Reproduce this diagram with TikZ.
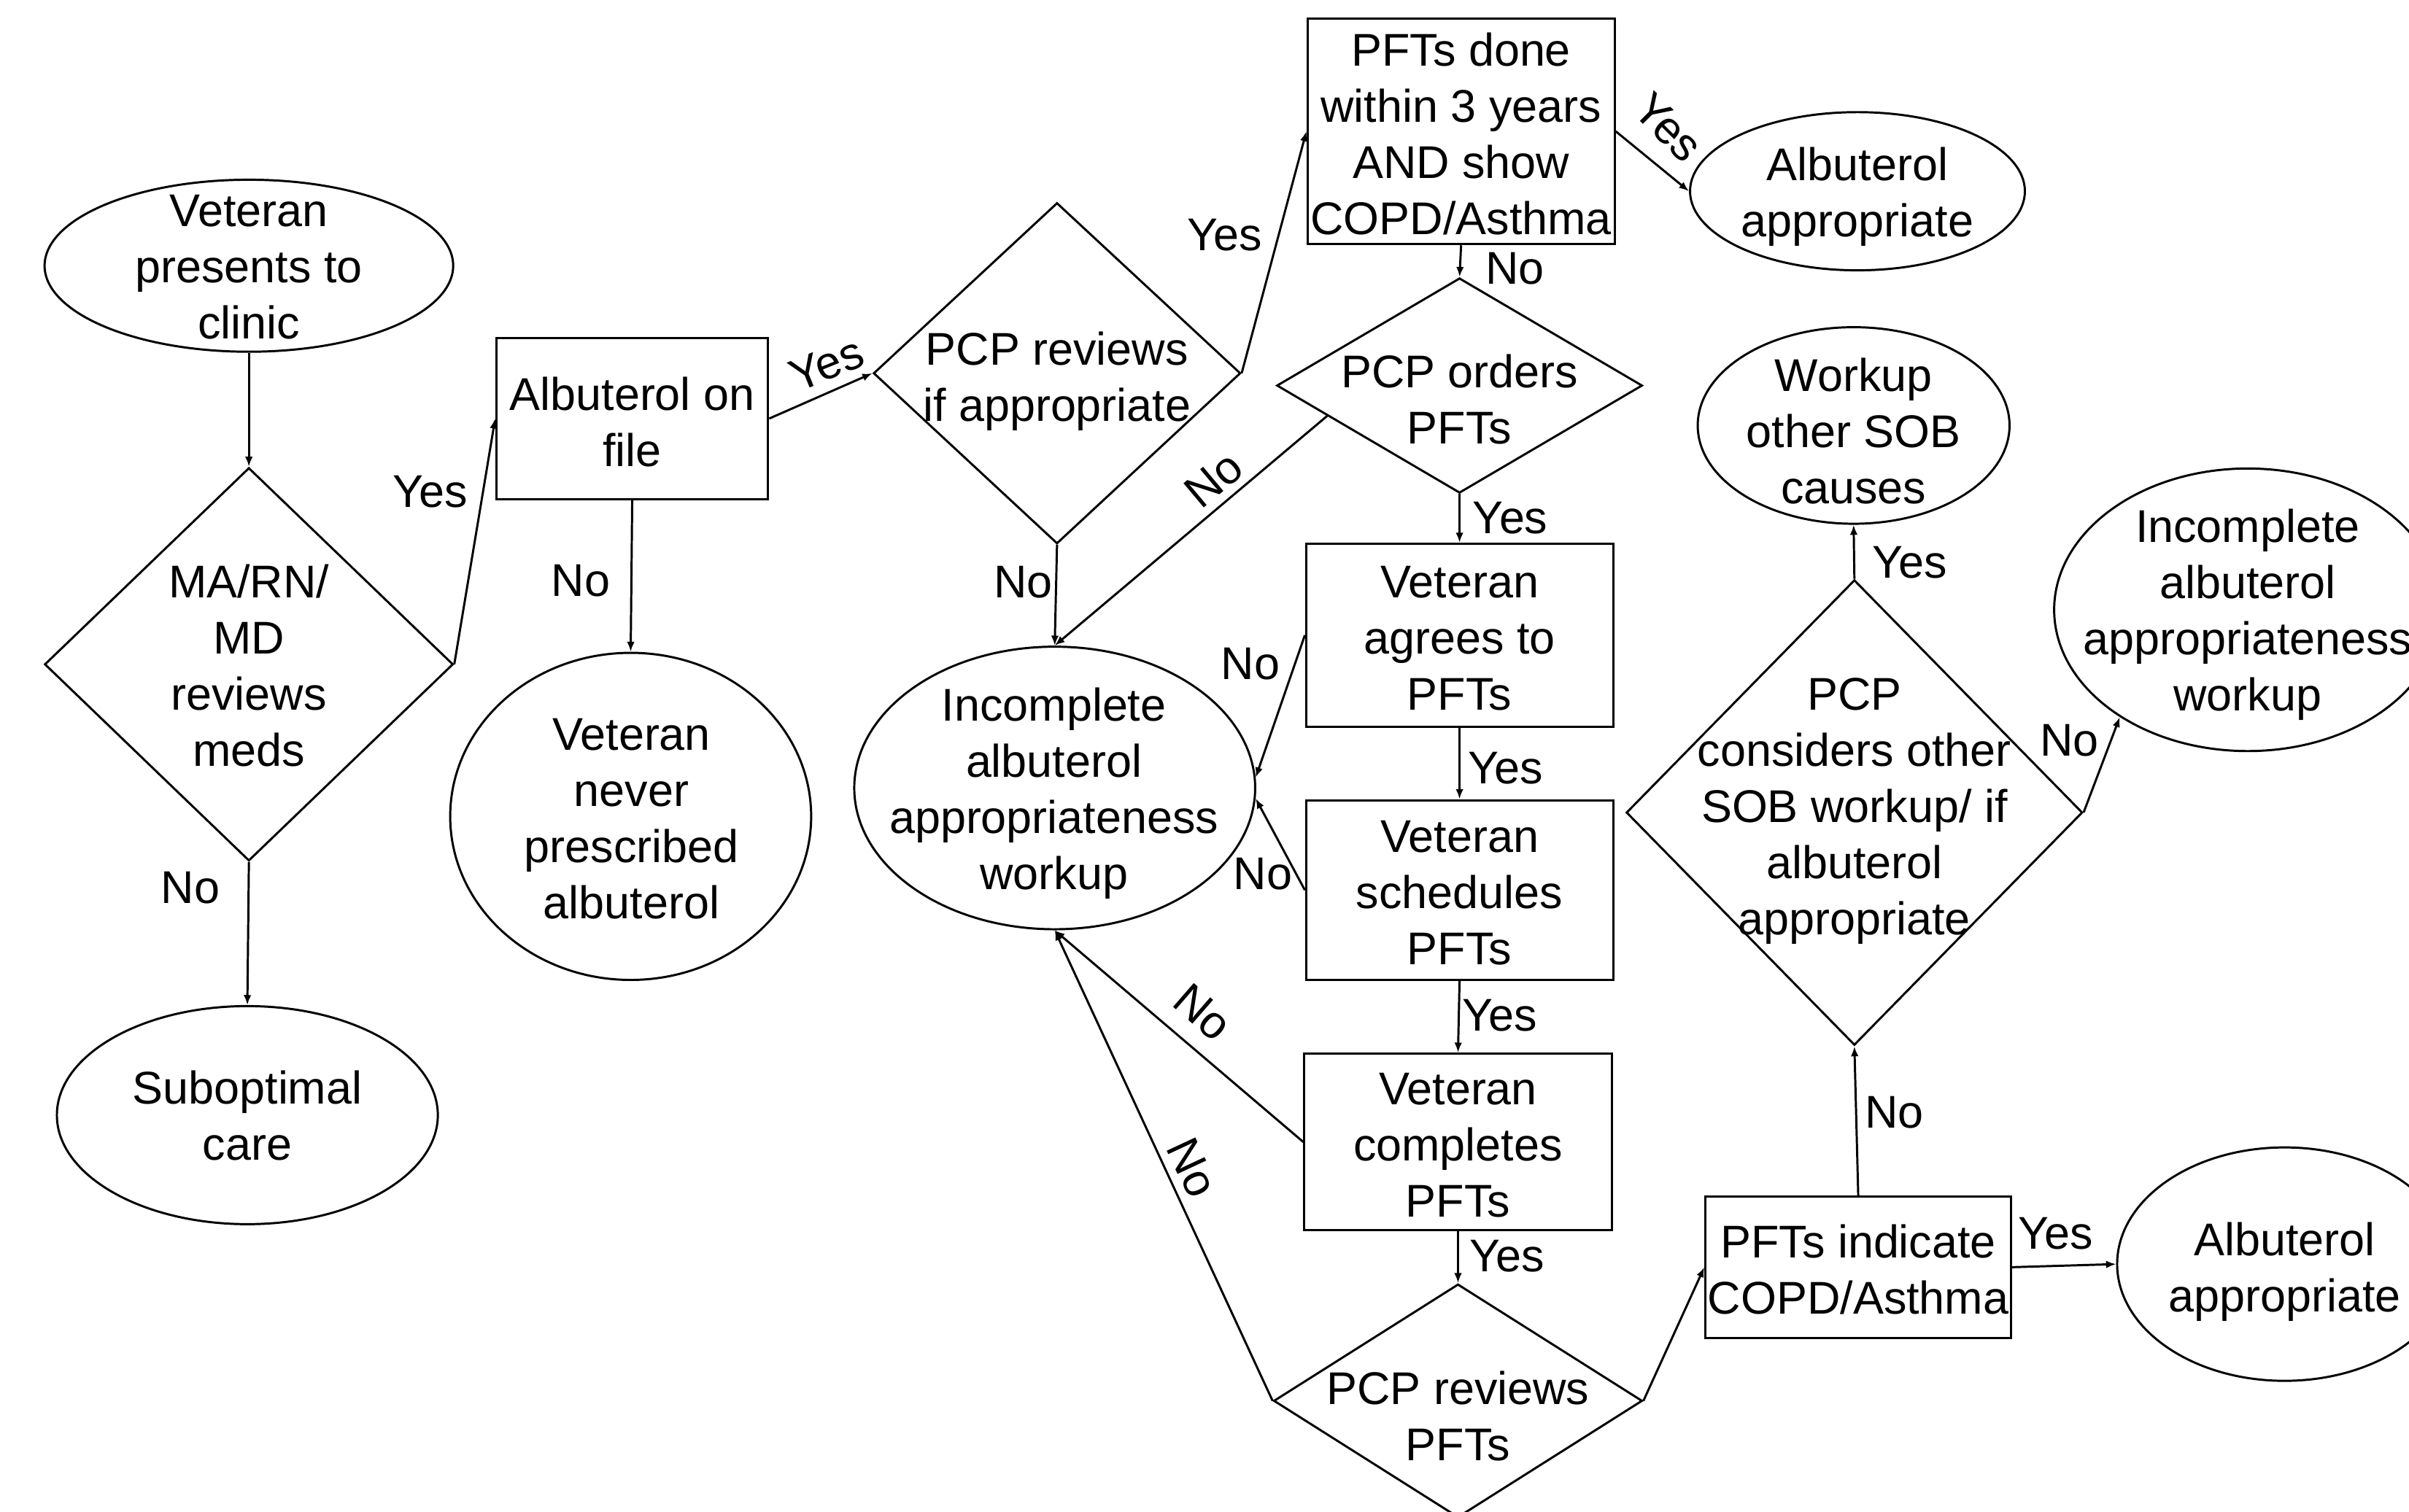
\documentclass[tikz,border=0pt]{standalone}
\usepackage{fontspec}
\setmainfont{Liberation Sans}
\usetikzlibrary{shapes.geometric,arrows.meta,calc}
\begin{document}
\begin{tikzpicture}[x=0.02cm,y=-0.02cm,
  line width=0.8pt,
  txt/.style={font=\fontsize{17}{20.8}\selectfont, align=center, inner sep=0pt},
  lbl/.style={font=\fontsize{17}{20.8}\selectfont, inner sep=0pt},
  ell/.style={draw, ellipse, inner sep=0pt},
  dia/.style={draw, diamond, inner sep=0pt},
  box/.style={draw, rectangle, inner sep=0pt},
  arr/.style={-{Latex[length=1.3mm,width=1mm]}},
]
\useasboundingbox (0,0) rectangle (1568,984);
\clip (0,0) rectangle (1568,984);
\fill[white] (0,0) rectangle (1568,984);

% shapes
\node[ell, minimum width=5.32cm, minimum height=2.24cm] (e1) at (162,173) {};
\node[txt] (t1) at (162,174) {Veteran\\presents to\\clinic};
\node[dia, minimum width=5.32cm, minimum height=5.12cm] (d1) at (162,432.5) {};
\node[txt] (t2) at (162,433.5) {MA/RN/\\MD\\reviews\\meds};
\node[ell, minimum width=4.96cm, minimum height=2.84cm] (e2) at (161,726) {};
\node[txt] (t3) at (161,726.5) {Suboptimal\\care};
\node[box, minimum width=3.54cm, minimum height=2.10cm] (b1) at (411.5,272.5) {};
\node[txt] (t4) at (411.5,274.5) {Albuterol on\\file};
\node[ell, minimum width=4.70cm, minimum height=4.26cm] (e3) at (410.5,531.5) {};
\node[txt] (t5) at (411,533) {Veteran\\never\\prescribed\\albuterol};
\node[dia, minimum width=4.78cm, minimum height=4.44cm] (d2) at (688,243) {};
\node[txt] (t6) at (688,248) {PCP reviews\\if appropriate};
\node[box, minimum width=4.0cm, minimum height=2.94cm] (b2) at (951,85.5) {};
\node[txt] (t7) at (951,87) {PFTs done\\within 3 years\\AND show\\COPD/Asthma};
\node[ell, minimum width=4.36cm, minimum height=2.06cm] (e4) at (1209,124.5) {};
\node[txt] (t8) at (1209,128) {Albuterol\\appropriate};
\node[dia, minimum width=4.76cm, minimum height=2.80cm] (d3) at (950,251) {};
\node[txt] (t9) at (950,260) {PCP orders\\PFTs};
\node[ell, minimum width=5.22cm, minimum height=3.68cm] (e5) at (686.5,513) {};
\node[txt] (t10) at (686,516.5) {Incomplete\\albuterol\\appropriateness\\workup};
\node[box, minimum width=4.0cm, minimum height=2.38cm] (b3) at (950,413.5) {};
\node[txt] (t11) at (950,415.5) {Veteran\\agrees to\\PFTs};
\node[box, minimum width=4.0cm, minimum height=2.34cm] (b4) at (950,579.5) {};
\node[txt] (t12) at (950,581.5) {Veteran\\schedules\\PFTs};
\node[box, minimum width=4.0cm, minimum height=2.30cm] (b5) at (949,743.5) {};
\node[txt] (t13) at (949,745.5) {Veteran\\completes\\PFTs};
\node[dia, minimum width=4.8cm, minimum height=3.04cm] (d4) at (949,912) {};
\node[txt] (t14) at (949,922) {PCP reviews\\PFTs};
\node[box, minimum width=3.98cm, minimum height=1.84cm] (b6) at (1209.5,825) {};
\node[txt] (t15) at (1209.5,826.5) {PFTs indicate\\COPD/Asthma};
\node[ell, minimum width=4.36cm, minimum height=3.04cm] (e6) at (1487,823) {};
\node[txt] (t16) at (1487,828) {Albuterol\\appropriate};
\node[ell, minimum width=4.06cm, minimum height=2.56cm] (e7) at (1206.5,277) {};
\node[txt] (t17) at (1206.5,280.5) {Workup\\other SOB\\causes};
\node[ell, minimum width=5.04cm, minimum height=3.68cm] (e8) at (1463,397) {};
\node[txt] (t18) at (1463,400) {Incomplete\\albuterol\\appropriateness\\workup};
\node[dia, minimum width=5.94cm, minimum height=6.06cm] (d5) at (1207,529) {};
\node[txt] (t19) at (1207,528) {PCP\\considers other\\SOB workup/ if\\albuterol\\appropriate};

% connectors
\draw[arr] (e1.south) -- (d1.north);
\draw[arr] (d1.east) -- (b1.west);
\draw[arr] (d1.south) -- (e2.north);
\draw[arr] (b1.south) -- (e3.north);
\draw[arr] (b1.east) -- (d2.west);
\draw[arr] (d2.east) -- (b2.west);
\draw[arr] (d2.south) -- (e5.north);
\draw[arr] (b2.south) -- (d3.north);
\draw[arr] (b2.east) -- (e4.west);
\coordinate (j1) at ($(d3.west)!0.28!(d3.south)$);
\draw[arr] (j1) -- (e5.north);
\draw[arr] (d3.south) -- (b3.north);
\draw[arr] (b3.west) -- (e5.3);
\draw[arr] (b3.south) -- (b4.north);
\draw[arr] (b4.west) -- (e5.-3);
\draw[arr] (b4.south) -- (b5.north);
\draw[arr] (b5.west) -- (e5.south);
\draw[arr] (d4.west) -- (e5.south);
\draw[arr] (b5.south) -- (d4.north);
\draw[arr] (d4.east) -- (b6.west);
\draw[arr] (b6.east) -- (e6.west);
\draw[arr] (b6.north) -- (d5.south);
\draw[arr] (d5.north) -- (e7.south);
\draw[arr] (d5.east) -- (e8.220);

% labels
\node[lbl] (y1) at (280,320) {Yes};
\node[lbl] (n1) at (124,578) {No};
\node[lbl] (n2) at (378,378) {No};
\node[lbl, rotate=22] (y2) at (538,237) {Yes};
\node[lbl] (y3) at (797,153) {Yes};
\node[lbl] (n3) at (666,379) {No};
\node[lbl] (n4) at (986,175) {No};
\node[lbl, rotate=-45] (y4) at (1086,83) {Yes};
\node[lbl, rotate=40] (n5) at (790,312) {No};
\node[lbl] (y5) at (983,337) {Yes};
\node[lbl] (n6) at (814,432) {No};
\node[lbl] (y6) at (980,500) {Yes};
\node[lbl] (n7) at (822,569) {No};
\node[lbl] (y7) at (976,661) {Yes};
\node[lbl, rotate=-41] (n8) at (783,659) {No};
\node[lbl, rotate=-65] (n9) at (776,760) {No};
\node[lbl] (y8) at (981,818) {Yes};
\node[lbl] (y9) at (1338,803) {Yes};
\node[lbl] (n10) at (1233,724) {No};
\node[lbl] (y10) at (1243,366) {Yes};
\node[lbl] (n11) at (1347,482) {No};
\end{tikzpicture}
\end{document}
